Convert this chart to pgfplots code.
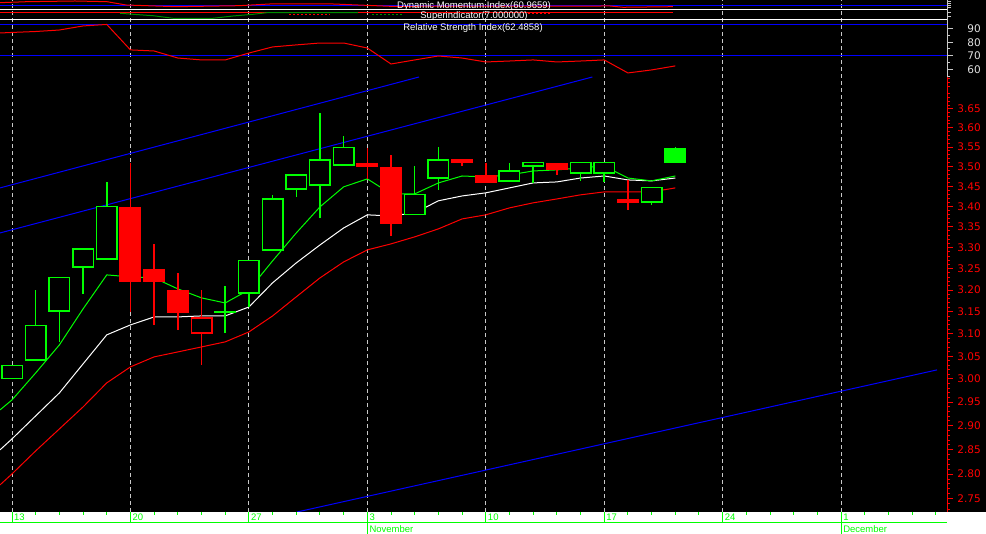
\documentclass[border=0pt]{standalone}
\usepackage{fontspec}
\setmainfont{Liberation Sans}
\newfontfamily\numfont{DejaVu Sans}
\usepackage{pgfplots}
\pgfplotsset{compat=1.18}
\definecolor{grn}{RGB}{0,255,0}
\definecolor{rd}{RGB}{255,0,0}
\definecolor{bl}{RGB}{0,0,255}
\definecolor{gridc}{RGB}{200,200,200}
\definecolor{lbl}{RGB}{225,225,225}
% filled candle: i, open, high, low, close, colour
\newcommand{\cF}[6]{%
  \addplot[#6, line width=1.5pt] coordinates {(#1,#4) (#1,#3)};
  \addplot[#6, line width=22pt] coordinates {(#1,#2) (#1,#5)};}
% hollow candle: i, open, high, low, close, colour, inner bottom, inner top
\newcommand{\cH}[8]{%
  \addplot[#6, line width=1.5pt] coordinates {(#1,#4) (#1,#3)};
  \addplot[#6, line width=22pt] coordinates {(#1,#2) (#1,#5)};
  \addplot[black, line width=19pt] coordinates {(#1,#7) (#1,#8)};}
\pgfplotsset{base/.style={scale only axis, width=947pt, xmin=-0.507, xmax=39.47, anchor=south west}}
\begin{document}
\begin{tikzpicture}
\useasboundingbox (0pt,0pt) rectangle (986pt,534pt);
\fill[black] (0pt,22pt) rectangle (986pt,534pt);
\fill[white] (0pt,0pt) rectangle (986pt,22pt);

% weekly dashed grid through all panels
\begin{axis}[base, at={(0pt,22pt)}, height=512pt, ymin=0, ymax=1,
  xtick={0,5,...,35}, xticklabels={}, ytick=\empty, xmajorgrids,
  grid style={gridc, dash pattern=on 4pt off 3pt, line width=1pt},
  axis line style={draw=none}, major tick length=0pt]
\end{axis}

% price panel (logarithmic price scale)
\begin{axis}[base, at={(0pt,22pt)}, height=435pt,
  y coord trafo/.code={\pgfmathparse{ln(#1)}},
  y coord inv trafo/.code={\pgfmathparse{exp(#1)}},
  ymin=2.724, ymax=3.735,
  axis x line=none, axis y line*=right, y axis line style={rd, line width=1pt, -},
  ytick={2.75,2.80,2.85,2.90,2.95,3.00,3.05,3.10,3.15,3.20,3.25,3.30,3.35,3.40,3.45,3.50,3.55,3.60,3.65},
  yticklabels={2.75,2.80,2.85,2.90,2.95,3.00,3.05,3.10,3.15,3.20,3.25,3.30,3.35,3.40,3.45,3.50,3.55,3.60,3.65},
  minor ytick={2.73,2.74,2.76,2.77,2.78,2.79,2.81,2.82,2.83,2.84,2.86,2.87,2.88,2.89,2.91,2.92,2.93,2.94,2.96,2.97,2.98,2.99,3.01,3.02,3.03,3.04,3.06,3.07,3.08,3.09,3.11,3.12,3.13,3.14,3.16,3.17,3.18,3.19,3.21,3.22,3.23,3.24,3.26,3.27,3.28,3.29,3.31,3.32,3.33,3.34,3.36,3.37,3.38,3.39,3.41,3.42,3.43,3.44,3.46,3.47,3.48,3.49,3.51,3.52,3.53,3.54,3.56,3.57,3.58,3.59,3.61,3.62,3.63,3.64,3.66,3.67,3.68,3.69,3.71,3.72,3.73},
  tick align=outside, major tick length=6pt, minor tick length=3pt,
  ytick style={rd, line width=1pt},
  yticklabel style={rd, font=\numfont\fontsize{10.5}{10.5}\selectfont, anchor=east, inner sep=0pt, xshift=28pt}]
% trend channel
\addplot[bl, line width=1pt] coordinates {(-0.507,3.4461) (17.18,3.735)};
\addplot[bl, line width=1pt] coordinates {(-0.507,3.3354) (24.5,3.735)};
\addplot[bl, line width=1pt] coordinates {(12.03,2.724) (39.05,3.0199)};
% moving averages
\addplot[rd, line width=1pt] coordinates {(-0.507,2.7781) (0,2.8004) (1,2.8475) (2,2.8933) (3,2.9399) (4,2.9915) (5,3.0265) (6,3.0485) (7,3.0596) (8,3.0708) (9,3.0819) (10,3.1043) (11,3.1405) (12,3.1842) (13,3.2284) (14,3.2661) (15,3.2946) (16,3.3089) (17,3.3258) (18,3.3452) (19,3.3695) (20,3.3793) (21,3.3965) (22,3.4089) (23,3.4187) (24,3.4287) (25,3.4362) (26,3.4362) (27,3.4362) (28,3.4461)};
\addplot[white, line width=1pt] coordinates {(-0.507,2.8496) (0,2.8724) (1,2.9208) (2,2.9699) (3,3.0331) (4,3.0976) (5,3.1201) (6,3.1383) (7,3.1383) (8,3.1405) (9,3.1405) (10,3.1611) (11,3.2167) (12,3.2637) (13,3.3066) (14,3.3476) (15,3.3793) (16,3.3768) (17,3.3842) (18,3.4138) (19,3.4262) (20,3.4337) (21,3.4461) (22,3.4587) (23,3.4611) (24,3.4712) (25,3.4762) (26,3.4662) (27,3.4637) (28,3.4712)};
\addplot[grn, line width=1pt] coordinates {(-0.507,2.9335) (0,2.9548) (1,3.0133) (2,3.0752) (3,3.1566) (4,3.2354) (5,3.2307) (6,3.2284) (7,3.2027) (8,3.1818) (9,3.1703) (10,3.2004) (11,3.2684) (12,3.3354) (13,3.3990) (14,3.4486) (15,3.4687) (16,3.4312) (17,3.4312) (18,3.4587) (19,3.4762) (20,3.4737) (21,3.4787) (22,3.4889) (23,3.4914) (24,3.4965) (25,3.5016) (26,3.4712) (27,3.4637) (28,3.4762)};
% candles: i, open, high, low, close
\cH{0}{3.000}{3.031}{3.000}{3.031}{grn}{3.0033}{3.0277}
\cH{1}{3.040}{3.200}{3.040}{3.120}{grn}{3.0433}{3.1166}
\cH{2}{3.150}{3.231}{3.082}{3.231}{grn}{3.1534}{3.2275}
\cH{3}{3.252}{3.299}{3.191}{3.299}{grn}{3.2555}{3.2954}
\cH{4}{3.271}{3.461}{3.271}{3.4015}{grn}{3.2746}{3.3978}
\cF{5}{3.399}{3.509}{3.150}{3.219}{rd}
\cF{6}{3.2495}{3.309}{3.120}{3.219}{rd}
\cF{7}{3.200}{3.240}{3.109}{3.147}{rd}
\cH{8}{3.100}{3.200}{3.031}{3.138}{rd}{3.1034}{3.1346}
\addplot[grn, line width=1.5pt] coordinates {(9,3.102) (9,3.210)};
\addplot[grn, line width=1.5pt] coordinates {(8.54,3.150) (9.46,3.150)};
\cH{10}{3.191}{3.271}{3.161}{3.271}{grn}{3.1945}{3.2674}
\cH{11}{3.292}{3.429}{3.292}{3.421}{grn}{3.2956}{3.4173}
\cH{12}{3.441}{3.481}{3.424}{3.481}{grn}{3.4448}{3.4772}
\cH{13}{3.451}{3.639}{3.372}{3.519}{grn}{3.4548}{3.5152}
\cH{14}{3.502}{3.579}{3.502}{3.550}{grn}{3.5058}{3.5461}
\cF{15}{3.509}{3.548}{3.469}{3.499}{rd}
\cF{16}{3.499}{3.530}{3.328}{3.357}{rd}
\cH{17}{3.379}{3.502}{3.379}{3.431}{grn}{3.3827}{3.4273}
\cH{18}{3.469}{3.550}{3.441}{3.519}{grn}{3.4728}{3.5152}
\cF{19}{3.519}{3.519}{3.502}{3.509}{rd}
\cF{20}{3.479}{3.509}{3.459}{3.459}{rd}
\cH{21}{3.461}{3.509}{3.461}{3.491}{grn}{3.4648}{3.4872}
\cH{22}{3.499}{3.512}{3.459}{3.512}{grn}{3.5028}{3.5082}
\cF{23}{3.509}{3.509}{3.479}{3.491}{rd}
\cH{24}{3.481}{3.512}{3.464}{3.512}{grn}{3.4848}{3.5082}
\cH{25}{3.481}{3.512}{3.461}{3.512}{grn}{3.4848}{3.5082}
\cF{26}{3.419}{3.466}{3.392}{3.409}{rd}
\cH{27}{3.409}{3.449}{3.404}{3.449}{grn}{3.4127}{3.4452}
\cF{28}{3.509}{3.550}{3.509}{3.548}{grn}
\end{axis}

% RSI panel
\begin{axis}[base, at={(0pt,457pt)}, height=57pt, ymin=54.3, ymax=96.4,
  axis x line=none, axis y line*=right, y axis line style={gridc, line width=1pt, -},
  ytick={60,70,80,90}, yticklabels={60,70,80,90}, minor ytick={55,65,75,85},
  tick align=outside, major tick length=6pt, minor tick length=3pt,
  ytick style={gridc, line width=1pt},
  yticklabel style={lbl, font=\numfont\fontsize{10.5}{10.5}\selectfont, anchor=east, inner sep=0pt, xshift=28pt}]
\addplot[bl, line width=1pt] coordinates {(-0.507,70) (39.47,70)};
\addplot[bl, line width=1pt] coordinates {(-0.507,92.7) (39.47,92.7)};
\addplot[rd, line width=1pt] coordinates {(-0.507,86.8) (0,87.2) (1,87.9) (2,89.0) (3,92.0) (4,93.1) (5,74.3) (6,73.5) (7,68.3) (8,66.9) (9,66.9) (10,72.0) (11,76.5) (12,78.0) (13,79.4) (14,79.4) (15,75.7) (16,63.9) (17,66.9) (18,69.8) (19,68.3) (20,65.4) (21,66.1) (22,66.9) (23,65.4) (24,66.1) (25,66.9) (26,57.3) (27,59.5) (28,62.49)};
\end{axis}

% Superindicator panel
\begin{axis}[base, at={(0pt,514pt)}, height=10pt, ymin=0, ymax=10,
  axis x line=none, axis y line*=right, y axis line style={gridc, line width=1pt, -},
  ytick={3,7}, yticklabels={}, tick align=outside, major tick length=4pt,
  ytick style={gridc, line width=1pt},
  after end axis/.code={\draw[white, line width=1pt] (rel axis cs:0,0) -- (rel axis cs:1,0);
    \draw[white, line width=1pt] (rel axis cs:0,1) -- (rel axis cs:1,1);}]
\addplot[rd, line width=1pt] coordinates {(-0.507,7.7) (27.9,7.7)};
\addplot[grn!55!black, line width=1pt] coordinates {(4.56,6.7) (5.11,5.7) (5.95,4.3) (6.80,1.7) (8.48,1.7) (9.33,4.0) (10.17,5.7) (10.76,7.3) (14.6,7.3)};
\addplot[rd, line width=1pt, dash pattern=on 2pt off 2pt] coordinates {(11.7,5.7) (13.4,5.7)};
\addplot[grn!55!black, line width=1pt, dash pattern=on 2pt off 2pt] coordinates {(15.2,5.7) (16.5,5.7)};
\addplot[rd, line width=1pt, dash pattern=on 2pt off 2pt] coordinates {(21.8,6.7) (22.8,6.7)};
\end{axis}

% Dynamic Momentum Index panel
\begin{axis}[base, at={(0pt,524pt)}, height=10pt, ymin=0, ymax=10,
  axis x line=none, axis y line*=right, y axis line style={gridc, line width=1pt, -},
  ytick={2,4,6,8}, yticklabels={}, tick align=outside, major tick length=4pt,
  ytick style={gridc, line width=1pt}]
\addplot[bl, line width=1pt] coordinates {(-0.507,4) (39.47,4)};
\addplot[rd, line width=1pt] coordinates {(-0.507,7.3) (0.63,8.3) (2.66,9.0) (4.01,8.3) (4.81,5.0) (6.92,3.3) (9.58,4.3) (10.89,6.0) (13.55,6.0) (14.6,5.0) (15.96,3.7) (25.24,4.0) (25.79,2.7) (27.9,3.3)};
\end{axis}

\node[white, inner sep=0pt, font=\fontsize{9.5}{10}\selectfont] at (474pt,528pt) {Dynamic Momentum Index(60.9659)};
\node[white, inner sep=0pt, font=\fontsize{9.5}{10}\selectfont] at (474pt,518pt) {Superindicator(7.000000)};
\node[white, inner sep=0pt, font=\fontsize{9.5}{10}\selectfont] at (473pt,506pt) {Relative Strength Index(62.4858)};

% day strip
\begin{axis}[base, at={(0pt,11pt)}, height=11pt, ymin=0, ymax=1, ytick=\empty,
  xtick={0,5,...,35}, xticklabels={13,20,27,3,10,17,24,1},
  minor xtick={0,1,...,39}, xtick pos=right, xticklabel pos=left,
  tick align=inside, major tick length=11pt, minor tick length=3.5pt,
  xtick style={grn, line width=1pt}, axis line style={draw=none},
  xticklabel style={grn, font=\fontsize{9.5}{9.5}\selectfont, anchor=south west, inner sep=0pt, xshift=2pt, yshift=2pt},
  after end axis/.code={\draw[grn, line width=1pt] (rel axis cs:0,0) -- (rel axis cs:1,0);}]
\end{axis}

% month strip
\begin{axis}[base, at={(0pt,0pt)}, height=11pt, ymin=0, ymax=1, ytick=\empty,
  xtick={15,35}, xticklabels={November,December}, xtick pos=right, xticklabel pos=left,
  tick align=inside, major tick length=11pt,
  xtick style={grn, line width=1pt}, axis line style={draw=none},
  xticklabel style={grn, font=\fontsize{9.5}{9.5}\selectfont, anchor=south west, inner sep=0pt, xshift=2pt, yshift=1pt}]
\end{axis}
\end{tikzpicture}
\end{document}
